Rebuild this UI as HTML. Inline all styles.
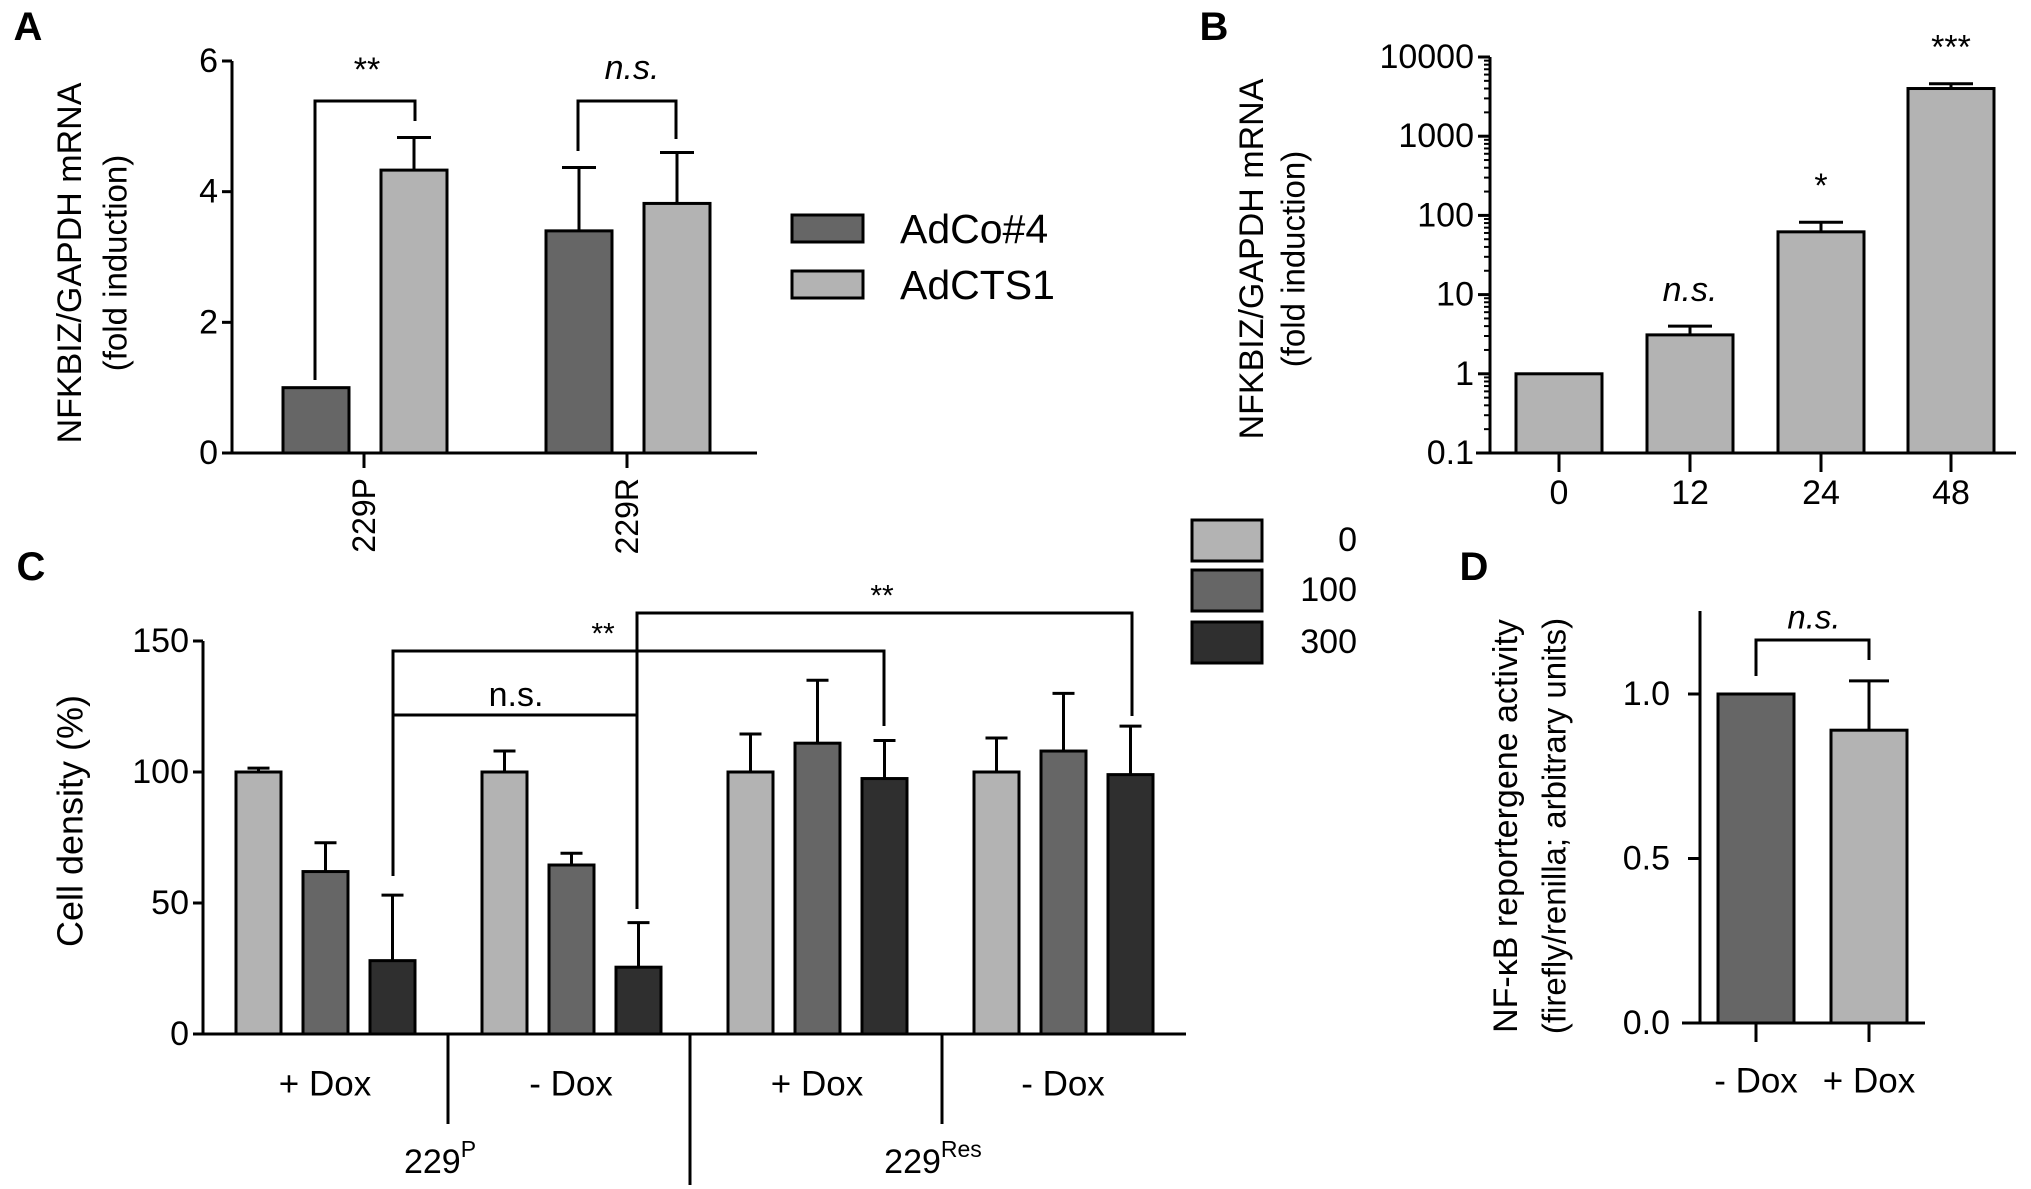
<!DOCTYPE html>
<html><head><meta charset="utf-8"><style>
html,body{margin:0;padding:0;background:#fff;}
svg{display:block;font-family:"Liberation Sans Narrow","Liberation Sans",Arial,sans-serif;}
.t{font-family:"Liberation Sans",Arial,sans-serif;}
</style></head><body>
<svg id="fig" width="2031" height="1189" viewBox="0 0 2031 1189" xmlns="http://www.w3.org/2000/svg"></svg>
<script>
// Panel A data
const aCategories = ["229P", "229R"];
const aSeriesNames = ["AdCo#4", "AdCTS1"];
const aCo = [1.0, 3.4];
const aCoErr = [0, 0.97];
const aCts = [4.33, 3.82];
const aCtsErr = [0.5, 0.78];
const aTicks = [0, 2, 4, 6];
// Panel B data
const bCategories = ["0", "12", "24", "48"];
const bValues = [1, 3.1, 62, 4000];
const bErrTop = [1, 4.0, 82, 4600];
const bSig = ["", "n.s.", "*", "***"];
const bTicks = [0.1, 1, 10, 100, 1000, 10000];
const bTickLabels = ["0.1", "1", "10", "100", "1000", "10000"];
// Panel C data
const cGroups = ["+ Dox", "- Dox", "+ Dox", "- Dox"];
const cDoses = ["0", "100", "300"];
const cDose0 = [100, 100, 100, 100];
const cDose100 = [62, 64.5, 111, 108];
const cDose300 = [28, 25.5, 97.5, 99];
const cErr0 = [1.5, 8, 14.5, 13];
const cErr100 = [11, 4.5, 24, 22];
const cErr300 = [25, 17, 14.5, 18.5];
const cTicks = [0, 50, 100, 150];
// Panel D data
const dCategories = ["- Dox", "+ Dox"];
const dValues = [1.0, 0.89];
const dErr = [0, 0.15];
const dTicks = [0, 0.5, 1.0];
const dTickLabels = ["0.0", "0.5", "1.0"];

const DARK = "#666666", LIGHT = "#b3b3b3", BLACK = "#2f2f2f";
const svg = document.getElementById('fig');
const NS = "http://www.w3.org/2000/svg";
function mk(tag, attrs, parent) {
  const e = document.createElementNS(NS, tag);
  for (const k in attrs) e.setAttribute(k, attrs[k]);
  (parent || svg).appendChild(e);
  return e;
}
function line(x1, y1, x2, y2, name, w) {
  const e = mk('line', {x1, y1, x2, y2, stroke: '#000', 'stroke-width': w || 3});
  
  
  return e;
}
function poly(pts, name) {
  const e = mk('polyline', {points: pts, fill: 'none', stroke: '#000', 'stroke-width': 3});
  
  
  return e;
}
function text(x, y, s, size, name, opts) {
  opts = opts || {};
  const e = mk('text', {x, y, 'font-size': size, 'text-anchor': opts.anchor || 'middle', 'dominant-baseline': 'central', fill: '#000'});
  if (opts.cls) e.setAttribute('class', opts.cls);
  if (opts.weight) e.setAttribute('font-weight', opts.weight);
  if (opts.italic) e.setAttribute('font-style', 'italic');
  if (opts.rot) e.setAttribute('transform', `rotate(${opts.rot} ${x} ${y})`);
  e.textContent = s;
  
  
  return e;
}
function rect(x, y, w, h, fill, name) {
  const e = mk('rect', {x, y, width: w, height: h, fill, stroke: '#000', 'stroke-width': 3});
  
  
  return e;
}
function errBar(cx, yTop, yErr, half, name) {
  if (Math.abs(yTop - yErr) < 1) return;
  line(cx, yTop, cx, yErr, name);
  line(cx - half, yErr, cx + half, yErr, name + '-cap');
}

// ===== Panel A =====
(function () {
  const X0 = 232, Y0 = 453, Y6 = 61;
  const ya = v => Y0 - (v / 6) * (Y0 - Y6);
  text(28, 27, "A", 40, "panel-a-label", {cls: 't', weight: 'bold'});
  line(X0, Y6, X0, Y0, "a-y-axis");
  line(X0 - 1.5, Y0, 757, Y0, "a-x-axis");
  aTicks.forEach(t => {
    line(X0 - 10, ya(t), X0, ya(t), "a-y-tick");
    text(X0 - 14, ya(t), String(t), 34, "a-y-tick-label", {anchor: 'end'});
  });
  const catX = [364, 627];
  aCategories.forEach((c, i) => {
    const cx = catX[i];
    const x1 = cx - 81, x2 = cx + 17;
    rect(x1, ya(aCo[i]), 66, Y0 - ya(aCo[i]), DARK, "a-bar-adco-" + c);
    errBar(x1 + 33, ya(aCo[i]), ya(aCo[i] + aCoErr[i]), 17, "a-error-adco");
    rect(x2, ya(aCts[i]), 66, Y0 - ya(aCts[i]), LIGHT, "a-bar-adcts1-" + c);
    errBar(x2 + 33, ya(aCts[i]), ya(aCts[i] + aCtsErr[i]), 17, "a-error-adcts1");
    line(cx, Y0, cx, 468, "a-x-tick");
    text(cx, 478, c, 32, "a-x-tick-label", {anchor: 'end', rot: -90, cls: 't'});
  });
  poly("315,380 315,101 415,101 415,121", "a-bracket-229p");
  text(367, 70, "**", 34, "a-sig-229p");
  poly("578,151 578,101 676,101 676,139", "a-bracket-229r");
  text(632, 68, "n.s.", 34, "a-sig-229r", {italic: true});
  rect(792, 215, 71, 27, DARK, "a-legend-swatch-adco4");
  text(900, 229, aSeriesNames[0], 41, "a-legend-label-adco4", {anchor: 'start'});
  rect(792, 271, 71, 27, LIGHT, "a-legend-swatch-adcts1");
  text(900, 285, aSeriesNames[1], 41, "a-legend-label-adcts1", {anchor: 'start'});
  text(70, 263, "NFKBIZ/GAPDH mRNA", 34, "a-y-axis-title", {rot: -90, cls: 't'});
  text(115, 263, "(fold induction)", 33, "a-y-axis-subtitle", {rot: -90, cls: 't'});
})();

// ===== Panel B =====
(function () {
  const X0 = 1490, Ybot = 453, Ytop = 57;
  const dec = (Ybot - Ytop) / 5;
  const yb = v => Ybot - (Math.log10(v) + 1) * dec;
  text(1214, 27, "B", 40, "panel-b-label", {cls: 't', weight: 'bold'});
  line(X0, Ytop, X0, Ybot, "b-y-axis");
  line(1476, Ybot, 2016, Ybot, "b-x-axis");
  bTicks.forEach((t, i) => {
    line(X0 - 12, yb(t), X0, yb(t), "b-y-tick");
    text(X0 - 16, yb(t), bTickLabels[i], 34, "b-y-tick-label", {anchor: 'end'});
    if (i < bTicks.length - 1) {
      for (let m = 2; m <= 9; m++) line(X0 - 6, yb(t * m), X0, yb(t * m), "b-y-minor-tick", 2);
    }
  });
  const catX = [1559, 1690, 1821, 1951];
  bCategories.forEach((c, i) => {
    const cx = catX[i];
    rect(cx - 43, yb(bValues[i]), 86, Ybot - yb(bValues[i]), LIGHT, "b-bar-" + c);
    errBar(cx, yb(bValues[i]), yb(bErrTop[i]), 22, "b-error-" + c);
    line(cx, Ybot, cx, 472, "b-x-tick");
    text(cx, 493, c, 34, "b-x-tick-label");
    if (bSig[i]) {
      const sy = yb(bErrTop[i]) - 36;
      text(cx, sy, bSig[i], 34, "b-sig-" + c, {italic: bSig[i] === 'n.s.'});
    }
  });
  text(1252, 259, "NFKBIZ/GAPDH mRNA", 34, "b-y-axis-title", {rot: -90, cls: 't'});
  text(1293, 259, "(fold induction)", 33, "b-y-axis-subtitle", {rot: -90, cls: 't'});
})();

// ===== Panel C =====
(function () {
  const X0 = 203, Y0 = 1034, Y150 = 641;
  const yc = v => Y0 - (v / 150) * (Y0 - Y150);
  text(31, 567, "C", 40, "panel-c-label", {cls: 't', weight: 'bold'});
  line(X0, Y150, X0, Y0, "c-y-axis");
  line(X0 - 1.5, Y0, 1186, Y0, "c-x-axis");
  cTicks.forEach(t => {
    line(X0 - 10, yc(t), X0, yc(t), "c-y-tick");
    text(X0 - 14, yc(t), String(t), 34, "c-y-tick-label", {anchor: 'end'});
  });
  const series = [[cDose0, cErr0, LIGHT], [cDose100, cErr100, DARK], [cDose300, cErr300, BLACK]];
  cGroups.forEach((g, gi) => {
    const gx = 236 + gi * 246;
    series.forEach((s, si) => {
      const x = gx + si * 67;
      const v = s[0][gi];
      rect(x, yc(v), 45, Y0 - yc(v), s[2], "c-bar-" + cDoses[si] + "-group" + (gi + 1));
      errBar(x + 22.5, yc(v), yc(v + s[1][gi]), 11, "c-error-bar");
    });
    text(gx + 89, 1084, g, 35, "c-group-label");
  });
  line(448, Y0, 448, 1124, "c-separator");
  line(690, Y0, 690, 1185, "c-separator-main");
  line(942, Y0, 942, 1124, "c-separator");
  const g1 = text(440, 1162, "229", 34, "c-cellline-parental");
  const sp = mk('tspan', {'baseline-shift': 'super', 'font-size': 23}, g1); sp.textContent = "P";
  const g2 = text(933, 1162, "229", 34, "c-cellline-resistant");
  const sp2 = mk('tspan', {'baseline-shift': 'super', 'font-size': 23}, g2); sp2.textContent = "Res";
  poly("393,876 393,715 637,715", "c-bracket-ns");
  text(516, 695, "n.s.", 34, "c-sig-ns");
  poly("393,715 393,651 884,651 884,726", "c-bracket-plusdox");
  text(603, 634, "**", 30, "c-sig-plusdox");
  poly("637,909 637,613 1132,613 1132,716", "c-bracket-minusdox");
  text(882, 596, "**", 30, "c-sig-minusdox");
  const legY = [520, 570, 622];
  const legC = [LIGHT, DARK, BLACK];
  cDoses.forEach((d, i) => {
    rect(1192, legY[i], 70, 41, legC[i], "c-legend-swatch-" + d);
    text(1357, legY[i] + 20, d, 34, "c-legend-label-" + d, {anchor: 'end'});
  });
  text(70, 821, "Cell density (%)", 36, "c-y-axis-title", {rot: -90, cls: 't'});
})();

// ===== Panel D =====
(function () {
  const X0 = 1700, Y0 = 1023, Y1 = 694;
  const yd = v => Y0 - v * (Y0 - Y1);
  text(1474, 567, "D", 40, "panel-d-label", {cls: 't', weight: 'bold'});
  line(X0, 611, X0, Y0, "d-y-axis");
  line(1682, Y0, 1925, Y0, "d-x-axis");
  dTicks.forEach((t, i) => {
    line(X0 - 12, yd(t), X0, yd(t), "d-y-tick");
    text(1670, yd(t), dTickLabels[i], 34, "d-y-tick-label", {anchor: 'end', cls: 't'});
  });
  const catX = [1756, 1869];
  const cols = [DARK, LIGHT];
  dCategories.forEach((c, i) => {
    const cx = catX[i];
    rect(cx - 38, yd(dValues[i]), 76, Y0 - yd(dValues[i]), cols[i], "d-bar-" + (i ? "plus" : "minus") + "-dox");
    errBar(cx, yd(dValues[i]), yd(dValues[i] + dErr[i]), 20, "d-error");
    line(cx, Y0, cx, 1042, "d-x-tick");
    text(cx, 1081, c, 35, "d-x-tick-label", {cls: 't'});
  });
  poly("1756,676 1756,640 1869,640 1869,660", "d-bracket");
  text(1814, 617, "n.s.", 33, "d-sig", {italic: true, cls: 't'});
  text(1506, 826, "NF-\u03BAB reportergene activity", 34, "d-y-axis-title", {rot: -90, cls: 't'});
  text(1554, 826, "(firefly/renilla; arbitrary units)", 33, "d-y-axis-subtitle", {rot: -90, cls: 't'});
})();
</script>
</body></html>
